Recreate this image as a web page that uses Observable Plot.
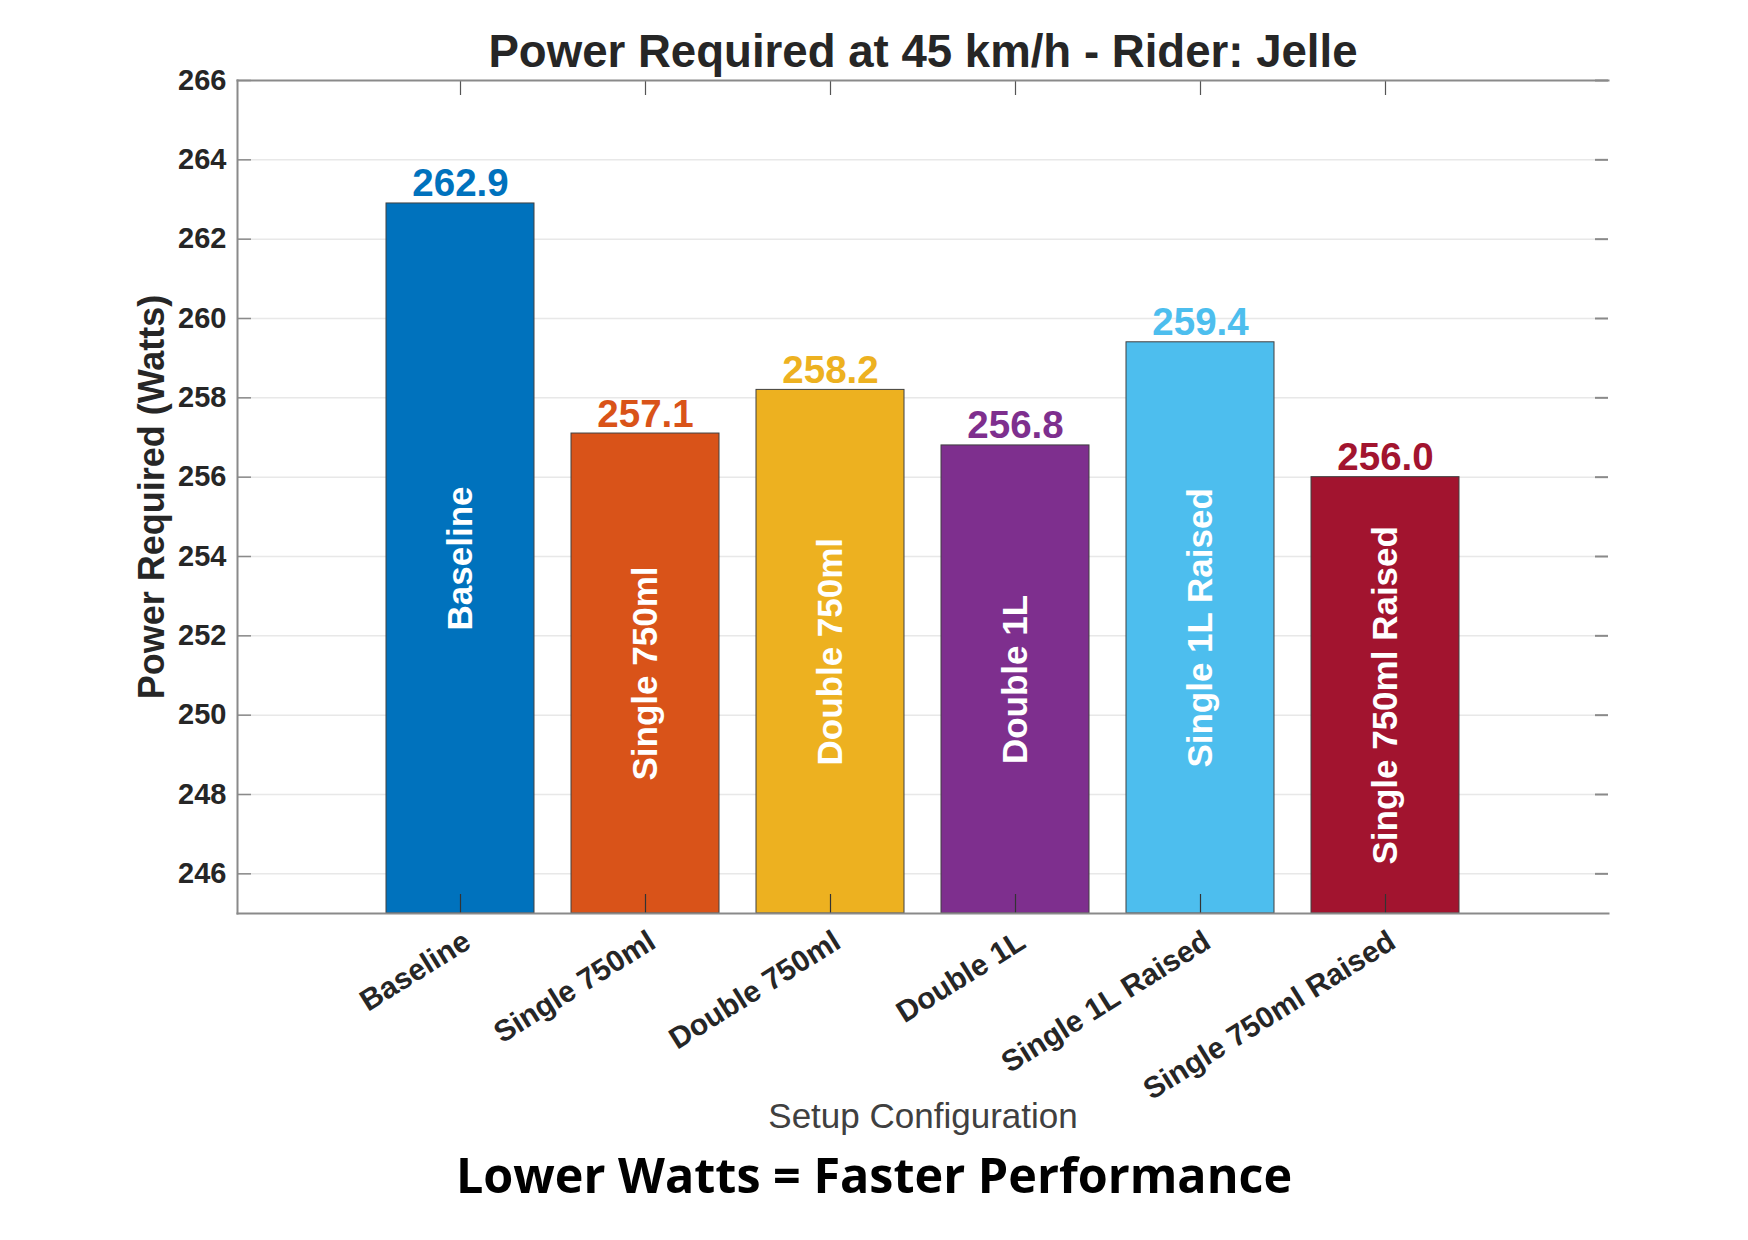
<!DOCTYPE html>
<html>
<head>
<meta charset="utf-8">
<script src="https://cdn.jsdelivr.net/npm/d3@7"></script>
<script src="https://cdn.jsdelivr.net/npm/@observablehq/plot@0.6"></script>
<style>
  html, body { margin: 0; padding: 0; background: #fff; }
  #wrap { position: relative; width: 1748px; height: 1240px; overflow: hidden; background: #fff; }
  #chart { position: absolute; left: 0; top: 0; }
  #caption {
    position: absolute; left: 0; width: 1748px; top: 1150px;
    text-align: center; font-family: "Open Sans", sans-serif; font-weight: 700;
    font-size: 48.5px; line-height: 1; color: #000;
  }
</style>
</head>
<body>
<div id="wrap"><div id="chart"></div><div id="caption">Lower Watts = Faster Performance</div></div>
<script>
const setups = ["Baseline", "Single 750ml", "Double 750ml", "Double 1L", "Single 1L Raised", "Single 750ml Raised"];
const power = [262.9, 257.1, 258.2, 256.8, 259.4, 256.0];
const barColors = ["#0072BD", "#D95319", "#EDB120", "#7E2F8E", "#4DBEEE", "#A2142F"];
const yDomain = [245, 266];
const yTicks = [246, 248, 250, 252, 254, 256, 258, 260, 262, 264, 266];
const gridTicks = [246, 248, 250, 252, 254, 256, 258, 260, 262, 264];
const titleText = "Power Required at 45 km/h - Rider: Jelle";
const yLabel = "Power Required (Watts)";
const xLabel = "Setup Configuration";

const data = setups.map((s, i) => ({name: s, value: power[i], color: barColors[i]}));

const W = 1748, H = 1145;
const mL = 237, mR = 140, mT = 80, mB = 232;
const fW = W - mL - mR, fH = H - mT - mB;
const font = "'Liberation Sans', Arial, Helvetica, sans-serif";
const axisGray = "#8a8a8a";
const textDark = "#262626";

const chart = Plot.plot({
  width: W, height: H,
  marginLeft: mL, marginRight: mR, marginTop: mT, marginBottom: mB,
  style: {fontFamily: font, background: "#fff", overflow: "hidden"},
  x: {type: "band", domain: setups, paddingInner: 0.2, paddingOuter: 0.8, axis: null},
  y: {domain: yDomain, axis: null},
  marks: [
    Plot.ruleY(gridTicks, {y: d => d, stroke: "#e8e8e8", strokeWidth: 1.5}),
    Plot.barY(data, {x: "name", y1: () => yDomain[0], y2: "value", fill: "color", stroke: "#404040", strokeWidth: 1}),
    // ticks
    Plot.tickY(yTicks, {y: d => d, stroke: axisGray, strokeWidth: 1.5, insetRight: fW - 14}),
    Plot.tickY(yTicks, {y: d => d, stroke: axisGray, strokeWidth: 2, insetLeft: fW - 13}),
    Plot.tickX(setups, {x: d => d, stroke: "#555", strokeWidth: 1.2, insetBottom: fH - 15}),
    Plot.tickX(setups, {x: d => d, stroke: "#333", strokeWidth: 1.2, insetTop: fH - 19}),
    // frame lines
    Plot.frame({anchor: "left", stroke: axisGray, strokeWidth: 2}),
    Plot.frame({anchor: "top", stroke: axisGray, strokeWidth: 2}),
    Plot.frame({anchor: "bottom", stroke: axisGray, strokeWidth: 2}),
    // value labels
    Plot.text(data, {x: "name", y: "value", text: d => d.value.toFixed(1), fill: "color",
      fontSize: 38.5, fontWeight: "bold", lineAnchor: "bottom", dy: -7}),
    // inner labels
    Plot.text(data, {x: "name", y: d => (yDomain[0] + d.value) / 2, text: "name", rotate: -90,
      fill: "#fff", fontSize: 35, fontWeight: "bold"}),
    // y tick labels
    Plot.text(yTicks, {y: d => d, text: d => String(d), frameAnchor: "left", textAnchor: "end",
      dx: -11, fill: textDark, fontSize: 29, fontWeight: "bold"}),
    // x tick labels
    Plot.text(setups, {x: d => d, text: d => d, frameAnchor: "bottom", rotate: -32,
      textAnchor: "end", lineAnchor: "middle", dx: 7, dy: 25, fill: textDark, fontSize: 30, fontWeight: "bold"}),
    // axis labels
    Plot.text([yLabel], {text: d => d, frameAnchor: "left", textAnchor: "middle", rotate: -90, dx: -85,
      fill: textDark, fontSize: 36, fontWeight: "bold"}),
    Plot.text([xLabel], {text: d => d, frameAnchor: "bottom", lineAnchor: "bottom", dy: 214,
      fill: "#404040", fontSize: 35}),
    // title
    Plot.text([titleText], {text: d => d, frameAnchor: "top", lineAnchor: "bottom", dy: -14,
      fill: textDark, fontSize: 45.6, fontWeight: "bold"})
  ]
});
document.getElementById("chart").appendChild(chart);
</script>
</body>
</html>
